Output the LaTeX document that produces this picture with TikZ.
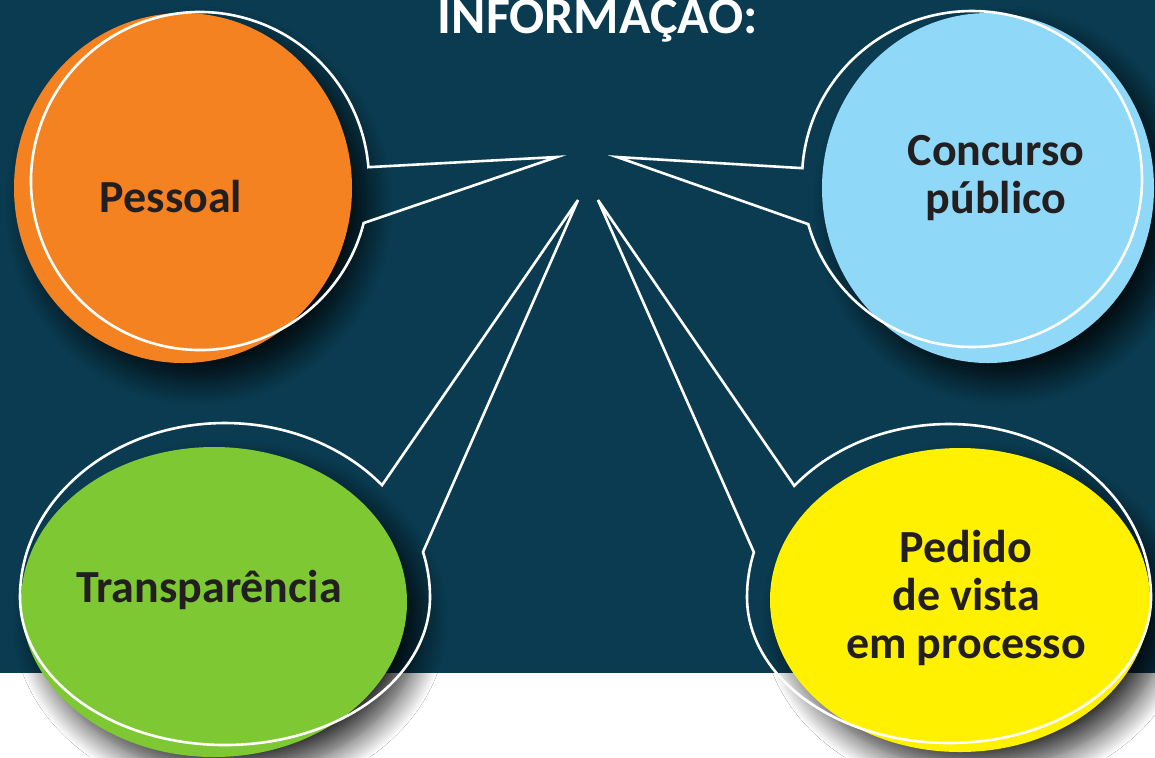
\documentclass[tikz,border=0pt]{standalone}
\usepackage{fontspec}
\setmainfont{Carlito}
\usetikzlibrary{shapes.geometric, shadows.blur}

\definecolor{fundo}{HTML}{0A3B50}
\definecolor{laranja}{HTML}{F58220}
\definecolor{azulclaro}{HTML}{8FD8F7}
\definecolor{verde}{HTML}{7EC834}
\definecolor{amarelo}{HTML}{FFF100}
\definecolor{texto}{HTML}{231F20}

\begin{document}
\begin{tikzpicture}[x=0.5pt, y=-0.5pt,
    bolha/.style={ellipse, inner sep=0pt,
      blur shadow={shadow xshift=8pt, shadow yshift=-9pt,
                   shadow blur radius=12pt, shadow blur steps=16,
                   shadow opacity=80}},
    contorno/.style={draw=white, line width=1.3pt, line join=miter},
    rotulo/.style={text=texto, font=\fontsize{23}{24}\selectfont\bfseries,
                   align=center, anchor=base}]

% Fundo
\useasboundingbox (0,0) rectangle (1155,757);
\fill[fundo] (0,0) rectangle (1155,673);
\fill[white] (0,673) rectangle (1155,757);

% Titulo
\node[text=white, font=\fontsize{26}{28}\selectfont\bfseries, anchor=base]
  (titulo) at (598,33) {INFORMAÇÃO:};

% Pontas e centros dos contornos
\coordinate (ponta pessoal) at (557,157);
\coordinate (ponta concurso) at (617,157);
\coordinate (ponta transp) at (578,200);
\coordinate (ponta pedido) at (598,200);
\coordinate (c pessoal) at (200,181);
\coordinate (c concurso) at (972,179);
\coordinate (c transp) at (225,597);
\coordinate (c pedido) at (949,597);

% Pessoal
\node[bolha, fill=laranja, minimum width=169pt, minimum height=175pt]
  (pessoal) at (183,188) {};
\draw[contorno] (c pessoal) ++(14.4:169)
  arc[start angle=14.4, end angle=355.3, radius=169]
  -- (ponta pessoal) -- cycle;
\node[rotulo] (pessoal texto) at (171,212) {Pessoal};

% Concurso publico
\node[bolha, fill=azulclaro, minimum width=166pt, minimum height=175pt]
  (concurso) at (988,188) {};
\draw[contorno] (c concurso) ++(183.7:170 and 168)
  arc[start angle=183.7, end angle=524.4, x radius=170, y radius=168]
  -- (ponta concurso) -- cycle;
\node[rotulo] (concurso texto) at (996,213) {Concurso\\público};

% Transparencia
\node[bolha, fill=verde, minimum width=193pt, minimum height=155pt]
  (transp) at (214,602) {};
\draw[contorno] (c transp) ++(-15:205 and 174)
  arc[start angle=-15, end angle=0, x radius=205, y radius=174]
  arc[start angle=0, end angle=180, x radius=205, y radius=148]
  arc[start angle=180, end angle=320, x radius=205, y radius=174]
  -- (ponta transp) -- cycle;
\node[rotulo] (transp texto) at (209,602) {Transparência};

% Pedido de vista
\node[bolha, fill=amarelo, minimum width=190pt, minimum height=152pt]
  (pedido) at (960,600) {};
\draw[contorno] (c pedido) ++(220:202 and 173)
  arc[start angle=220, end angle=360, x radius=202, y radius=173]
  arc[start angle=0, end angle=180, x radius=202, y radius=146]
  arc[start angle=180, end angle=195, x radius=202, y radius=173]
  -- (ponta pedido) -- cycle;
\node[rotulo] (pedido texto) at (966,658) {Pedido\\de vista\\em processo};

\end{tikzpicture}
\end{document}
